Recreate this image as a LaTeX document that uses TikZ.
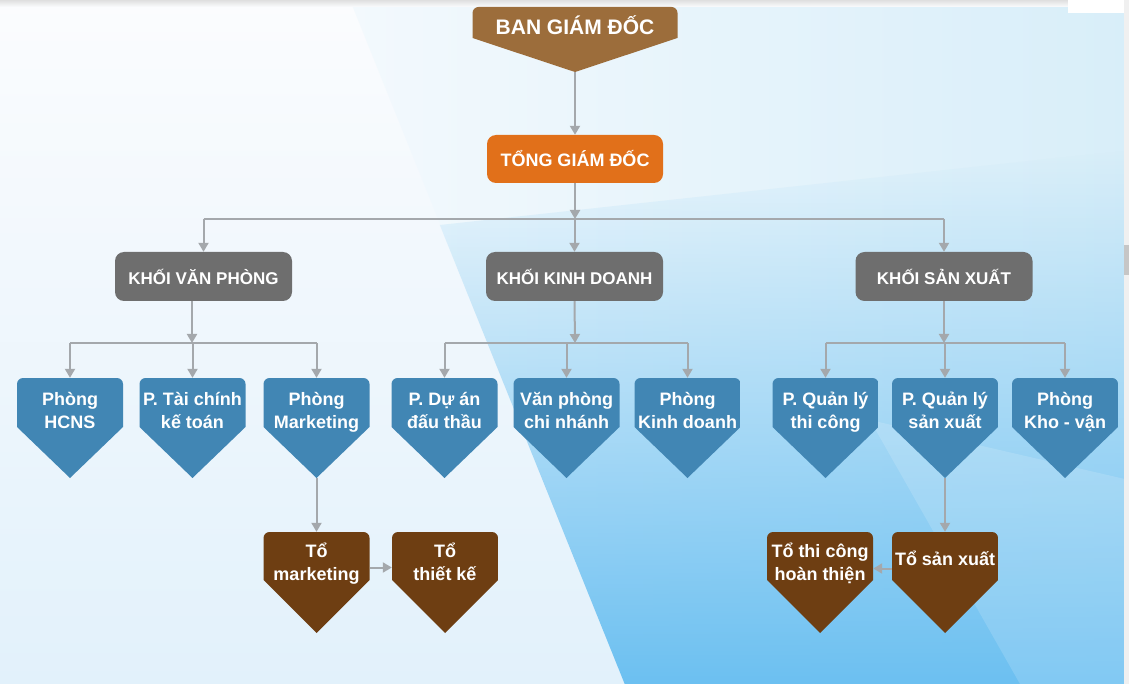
\documentclass[tikz,border=0pt]{standalone}
\usepackage{fontspec}
\setmainfont{Liberation Sans}
\usetikzlibrary{positioning}
\usetikzlibrary{calc}
\usetikzlibrary{arrows.meta}
\usetikzlibrary{fadings}

\definecolor{bgdbrown}{HTML}{9C6D3B}
\definecolor{tgdorange}{HTML}{E1701A}
\definecolor{khoigray}{HTML}{6E6E6E}
\definecolor{phongblue}{HTML}{4186B4}
\definecolor{tobrown}{HTML}{6E3E12}
\definecolor{linegray}{HTML}{A4A8AC}
\definecolor{bgtop}{HTML}{FBFCFE}
\definecolor{bgbottom}{HTML}{E2F1FB}
\definecolor{bandleft}{HTML}{F3F9FD}
\definecolor{bandright}{HTML}{D8EEF9}
\definecolor{wedgeblue}{HTML}{6CC0F1}

\begin{document}
\begin{tikzpicture}[x=1pt, y=-1pt,
            pentnode/.style 2 args={rectangle, rounded corners=6pt, inner sep=0pt, minimum width=106pt, text=white, align=center, text height=16pt,
                font=\bfseries\fontsize{18}{23}\selectfont,
                path picture={\fill[#1, sharp corners] (path picture bounding box.south)
                    -- ([yshift=#2]path picture bounding box.south east) -- (path picture bounding box.north east)
                    -- (path picture bounding box.north west) -- ([yshift=#2]path picture bounding box.south west) -- cycle;}},
            bluepentnode/.style={pentnode={phongblue}{51pt}, minimum height=100pt, text depth=16pt},
            brownpentnode/.style={pentnode={tobrown}{53pt}, minimum height=101pt, text depth=21pt},
            graysquarednode/.style={rectangle, rounded corners=9pt, fill=khoigray, text=white, minimum width=177pt, minimum height=49pt, font=\bfseries\fontsize{17}{20}\selectfont},
            orangesquarednode/.style={rectangle, rounded corners=9pt, fill=tgdorange, text=white, minimum width=176pt, minimum height=48pt, font=\bfseries\fontsize{18}{22}\selectfont},
            conn/.style={-{Triangle[width=10pt,length=9pt]}, draw=linegray, line width=2pt},
            busline/.style={draw=linegray, line width=2pt},
            ]

            \useasboundingbox (0,0) rectangle (1129,684);

            % background
            \shade[top color=bgtop, bottom color=bgbottom] (0,0) rectangle (1129,684);
            \shade[left color=bandleft, right color=bandright] (350,0) -- (1129,0) -- (1129,684) -- (625,684) -- cycle;
            \fill[wedgeblue, path fading=north] (440,225) -- (1129,150) -- (1129,684) -- (625,684) -- cycle;
            \fill[white, opacity=0.15] (870,420) -- (1129,480) -- (1129,684) -- (1020,684) -- cycle;
            \shade[top color=gray!25, bottom color=bgtop] (0,0) rectangle (1068,7);
            \fill[white] (1068,0) rectangle (1124,13);
            \fill[gray!12] (1124,0) rectangle (1129,684);
            \fill[gray!45] (1124,245) rectangle (1129,275);

            \node[pentnode={bgdbrown}{34pt}, minimum width=205pt, minimum height=65pt, text depth=25pt, font=\bfseries\fontsize{21}{25}\selectfont] (bgd) at (575,39.5) {BAN GIÁM ĐỐC};
            \node[orangesquarednode] (tgd) at (575,159) {TỔNG GIÁM ĐỐC};

            \node[graysquarednode] (kvp) at (203.5,276.5) {KHỐI VĂN PHÒNG};
            \node[graysquarednode] (kkd) at (574.5,276.5) {KHỐI KINH DOANH};
            \node[graysquarednode] (ksx) at (944,276.5) {KHỐI SẢN XUẤT};

            \node[bluepentnode] (hcns) at (70,428) {Phòng\\HCNS};
            \node[bluepentnode] (tckt) at (192.5,428) {P. Tài chính\\kế toán};
            \node[bluepentnode] (pmkt) at (316.5,428) {Phòng\\Marketing};
            \node[bluepentnode] (dadt) at (444.5,428) {P. Dự án\\đấu thầu};
            \node[bluepentnode] (vpcn) at (566.5,428) {Văn phòng\\chi nhánh};
            \node[bluepentnode] (pkd) at (687.5,428) {Phòng\\Kinh doanh};
            \node[bluepentnode] (qltc) at (825.5,428) {P. Quản lý\\thi công};
            \node[bluepentnode] (qlsx) at (945,428) {P. Quản lý\\sản xuất};
            \node[bluepentnode] (khvt) at (1065,428) {Phòng\\Kho - vận};

            \node[brownpentnode] (tomkt) at (316.5,582.5) {Tổ\\marketing};
            \node[brownpentnode] (totk) at (445,582.5) {Tổ\\thiết kế};
            \node[brownpentnode] (totc) at (820,582.5) {Tổ thi công\\hoàn thiện};
            \node[brownpentnode, text depth=51pt] (tosx) at (945,582.5) {Tổ sản xuất};

            \coordinate (busA) at (575,219);
            \coordinate (busV) at (192,343);
            \coordinate (busK) at (575,343);
            \coordinate (busS) at (944,343);

            \draw[conn] (bgd.south) -- (tgd.north);
            \draw[conn] (tgd.south) -- (busA);
            \draw[busline] (kvp.north |- busA) -- (ksx.north |- busA);
            \foreach \k in {kvp,kkd,ksx}
                \draw[conn] (\k.north |- busA) -- (\k.north);

            \draw[conn] (kvp.south -| busV) -- (busV);
            \draw[busline] (hcns.north |- busV) -- (pmkt.north |- busV);
            \foreach \p in {hcns,tckt,pmkt}
                \draw[conn] (\p.north |- busV) -- (\p.north);

            \draw[conn] (kkd.south) -- (busK);
            \draw[busline] (dadt.north |- busK) -- (pkd.north |- busK);
            \foreach \p in {dadt,vpcn,pkd}
                \draw[conn] (\p.north |- busK) -- (\p.north);

            \draw[conn] (ksx.south) -- (busS);
            \draw[busline] (qltc.north |- busS) -- (khvt.north |- busS);
            \foreach \p in {qltc,qlsx,khvt}
                \draw[conn] (\p.north |- busS) -- (\p.north);

            \draw[conn] (pmkt.south) -- (tomkt.north);
            \draw[conn] ([yshift=15pt]tomkt.east) -- ([yshift=15pt]totk.west);
            \draw[conn] (qlsx.south) -- (tosx.north);
            \draw[conn] ([yshift=14pt]tosx.west) -- ([yshift=14pt]totc.east);
        \end{tikzpicture}
\end{document}
